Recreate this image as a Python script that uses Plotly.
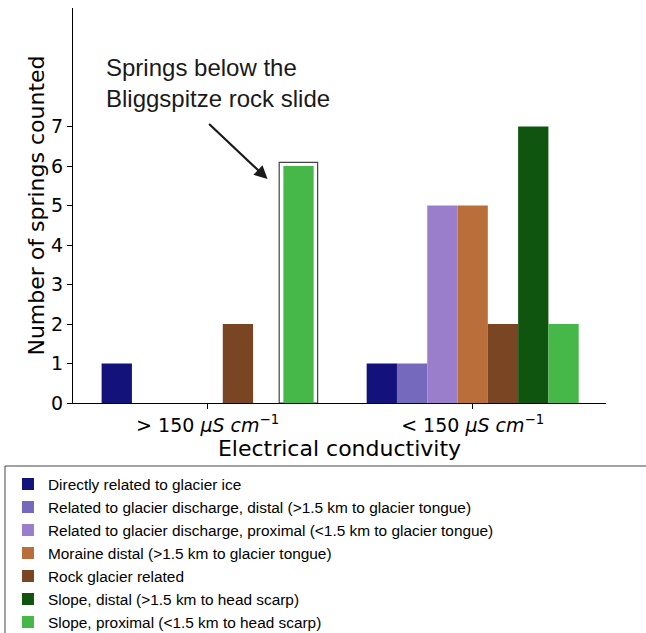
import plotly.graph_objects as go

categories = ["&gt; 150 <i>μS cm</i><sup>−1</sup>", "&lt; 150 <i>μS cm</i><sup>−1</sup>"]
series_names = [
    "Directly related to glacier ice",
    "Related to glacier discharge, distal (>1.5 km to glacier tongue)",
    "Related to glacier discharge, proximal (<1.5 km to glacier tongue)",
    "Moraine distal (>1.5 km to glacier tongue)",
    "Rock glacier related",
    "Slope, distal (>1.5 km to head scarp)",
    "Slope, proximal (<1.5 km to head scarp)",
]
series_values = [
    [1, 1],
    [0, 1],
    [0, 5],
    [0, 5],
    [2, 2],
    [0, 7],
    [6, 2],
]
colors = ["#13127A", "#7469BC", "#9A7ECB", "#BA6E3A", "#7A4522", "#0F550F", "#46B84A"]
y_ticks = [0, 1, 2, 3, 4, 5, 6, 7]

fig = go.Figure()
for name, vals, c in zip(series_names, series_values, colors):
    fig.add_trace(go.Bar(x=[0, 1], y=vals, name=name, marker=dict(color=c, line=dict(width=0))))

axis_font = dict(family="DejaVu Sans", size=19, color="black")
fig.update_layout(
    width=646, height=633,
    margin=dict(l=73, r=40, t=8, b=230, autoexpand=False),
    plot_bgcolor="white", paper_bgcolor="white",
    barmode="group", bargap=0.2, bargroupgap=0,
    xaxis=dict(
        range=[-0.508, 1.503], tickvals=[0, 1], ticktext=categories,
        showline=True, linecolor="black", linewidth=1, showgrid=False, zeroline=False,
        ticks="outside", ticklen=5, tickcolor="black", tickfont=axis_font,
        title=dict(text="Electrical conductivity", font=dict(family="DejaVu Sans", size=22, color="black"), standoff=4),
    ),
    yaxis=dict(
        range=[0, 10], tickvals=y_ticks,
        showline=True, linecolor="black", linewidth=1, showgrid=False, zeroline=False,
        ticks="outside", ticklen=5, tickcolor="black", tickfont=axis_font,
        title=dict(text="Number of springs counted", font=dict(family="DejaVu Sans", size=22, color="black"), standoff=0),
    ),
    legend=dict(
        x=-0.122, y=-0.163, xanchor="left", yanchor="top",
        font=dict(family="Liberation Sans, Arial", size=15.4, color="black"),
        bgcolor="rgba(0,0,0,0)", borderwidth=0, tracegroupgap=0,
    ),
    showlegend=True,
)

# highlight box around the proximal slope bar in first group
fig.add_shape(type="rect", xref="x", yref="y", x0=0.270, x1=0.415, y0=0, y1=6.09,
              line=dict(color="#444444", width=1.2), fillcolor="rgba(0,0,0,0)", layer="below")

# legend frame
fig.add_shape(type="rect", xref="paper", yref="paper", x0=-0.1276, x1=1.09, y0=-0.62, y1=-0.1595,
              line=dict(color="#444444", width=1), fillcolor="rgba(0,0,0,0)")

fig.add_annotation(x=0.226, y=5.67, ax=0.0, ay=7.1, xref="x", yref="y", axref="x", ayref="y",
                   text="", showarrow=True, arrowhead=2, arrowsize=1.2, arrowwidth=2.2, arrowcolor="#1a1a1a")
fig.add_annotation(x=-0.392, y=8.1, xref="x", yref="y", xanchor="left", yanchor="middle", align="left",
                   text="Springs below the<br>Bliggspitze rock slide", showarrow=False,
                   font=dict(family="Liberation Sans, Arial", size=24, color="#1a1a1a"))

fig.write_html("out.html", config={"displayModeBar": False},
               post_script="document.body.style.margin='0';document.body.style.overflow='hidden';")
